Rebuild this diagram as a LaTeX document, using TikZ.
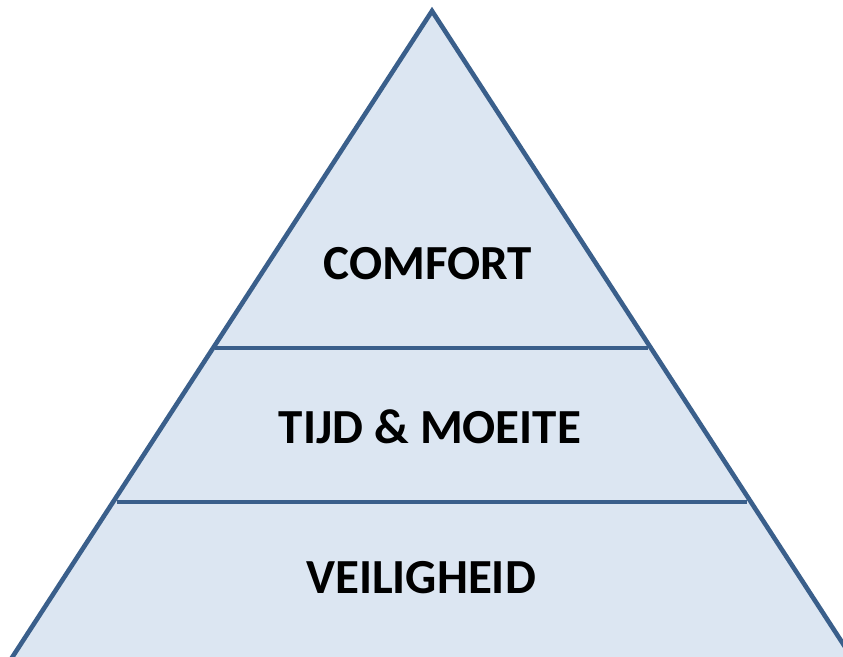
\documentclass[tikz,border=0pt]{standalone}
\usepackage{fontspec}
\setmainfont{Carlito}
\definecolor{edge}{HTML}{3A5F8B}
\definecolor{fillc}{HTML}{DCE6F2}
\begin{document}
\begin{tikzpicture}[x=1pt,y=-1pt,
  lbl/.style={font=\fontsize{49}{56}\selectfont\bfseries, text=black, inner sep=0pt, anchor=center}]
\useasboundingbox (0,0) rectangle (843,656);
\clip (0,0) rectangle (843,656);
\coordinate (apex) at (432,11);
\coordinate (bl) at (2,673);
\coordinate (br) at (862,673);
\filldraw[fill=fillc, draw=edge, line width=4.6pt, line join=miter] (apex) -- (br) -- (bl) -- cycle;
\draw[edge, line width=4.6pt] (215,348) -- (648,348);
\draw[edge, line width=4.6pt] (117,502) -- (747,502);
\node[lbl] (c) at (428,264) {COMFORT};
\node[lbl] (t) at (430,427) {TIJD \& MOEITE};
\node[lbl] (v) at (421,578) {VEILIGHEID};
\end{tikzpicture}
\end{document}
